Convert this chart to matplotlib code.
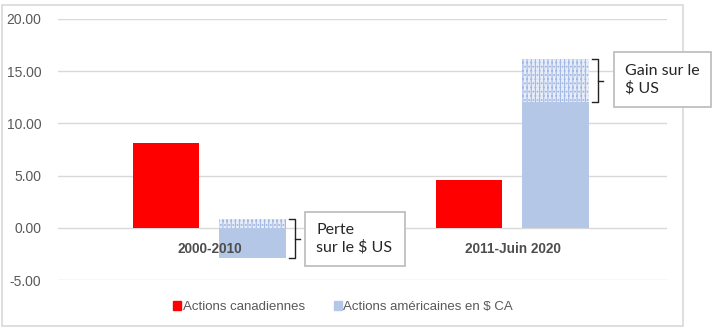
import numpy as np
import matplotlib
matplotlib.use("Agg")
import matplotlib.pyplot as plt
from matplotlib.patches import Rectangle, Patch

plt.rcParams["hatch.linewidth"] = 0.8

categories = ["2000-2010", "2011-Juin 2020"]
canadian = [8.1, 4.6]            # Actions canadiennes
us_in_cad = [-2.9, 12.05]        # Actions américaines en $ CA
us_in_usd = [0.85, 16.15]        # same stocks measured in $ US
notes = ["Perte\nsur le $ US", "Gain sur le\n$ US"]
yticks = [-5, 0, 5, 10, 15, 20]

RED = "#ff0000"
BLUE = "#b4c7e7"
GRID = "#d9d9d9"
TXT = "#595959"

W, H = 714, 331
fig = plt.figure(figsize=(W / 100, H / 100), dpi=100)
ax = fig.add_axes([58 / W, (H - 280) / H, 609 / W, 261 / H])

x = np.arange(len(categories))
bw = 0.22
off = 0.143

ax.bar(x - off, canadian, bw, color=RED, zorder=2)
ax.bar(x + off, us_in_cad, bw, color=BLUE, zorder=2)

# currency effect shown as a dotted segment on top of the US bar
for i in range(len(categories)):
    base = max(us_in_cad[i], 0)
    ax.bar(x[i] + off, us_in_usd[i] - base, bw, bottom=base,
           color="#e8eef9", edgecolor="#a3b8e4", hatch="||||....",
           linewidth=0, zorder=2)

    # bracket next to the US bar
    top = us_in_usd[i]
    bot = min(us_in_cad[i], 0) if us_in_cad[i] < 0 else us_in_cad[i]
    bx0 = x[i] + off + bw / 2 + 0.01
    bx1 = bx0 + 0.018
    ax.plot([bx0, bx1, bx1, bx0], [top, top, bot, bot], color="#222222",
            lw=1.0, zorder=3, clip_on=False)
    ax.plot([bx1, bx1 + 0.018], [(top + bot) / 2] * 2, color="#222222",
            lw=1.0, zorder=3, clip_on=False)

ax.set_xlim(-0.5, 1.51)
ax.set_ylim(-5, 20)
ax.set_yticks(yticks)
ax.set_yticklabels([f"{v:.2f}" for v in yticks], color=TXT,
                   fontsize=10, family="Liberation Sans")
ax.tick_params(axis="y", length=0, pad=12)
ax.grid(axis="y", color=GRID, lw=1, zorder=0)
for s in ax.spines.values():
    s.set_visible(False)
ax.set_xticks([])

for i, c in enumerate(categories):
    ax.annotate(c, (x[i], 0), xytext=(0, -15), textcoords="offset points",
                ha="center", va="center", fontsize=9.8, color="#4d4d4d",
                fontweight="bold", family="Liberation Sans", zorder=5)

# chart frame
fig.patches.append(Rectangle((2 / W, 5 / H), 681 / W, 321 / H,
                             transform=fig.transFigure, fill=False,
                             edgecolor=GRID, lw=1.2))

# callout boxes
boxes = [(305, 212, 100, 54), (614, 52, 97, 55)]
for (bx, by, bwid, bht), note in zip(boxes, notes):
    fig.patches.append(Rectangle((bx / W, (H - by - bht) / H), bwid / W, bht / H,
                                 transform=fig.transFigure, facecolor="white",
                                 edgecolor="#bfbfbf", lw=1.3, zorder=6))
    fig.text((bx + 11) / W, (H - by - bht / 2) / H, note, ha="left",
             va="center", fontsize=11.5, color="#262626", family="Lato",
             linespacing=1.25, zorder=7)

handles = [Patch(color=RED, label="Actions canadiennes"),
           Patch(color=BLUE, label="Actions américaines en $ CA")]
leg = fig.legend(handles=handles, loc="center", bbox_to_anchor=(343 / W, (H - 307) / H),
                 ncol=2, frameon=False, handlelength=0.6, handleheight=0.6,
                 handletextpad=0.1, columnspacing=2.2,
                 prop={"family": "Liberation Sans", "size": 9.5})
for t in leg.get_texts():
    t.set_color(TXT)

fig.savefig("out.png", dpi=100)
